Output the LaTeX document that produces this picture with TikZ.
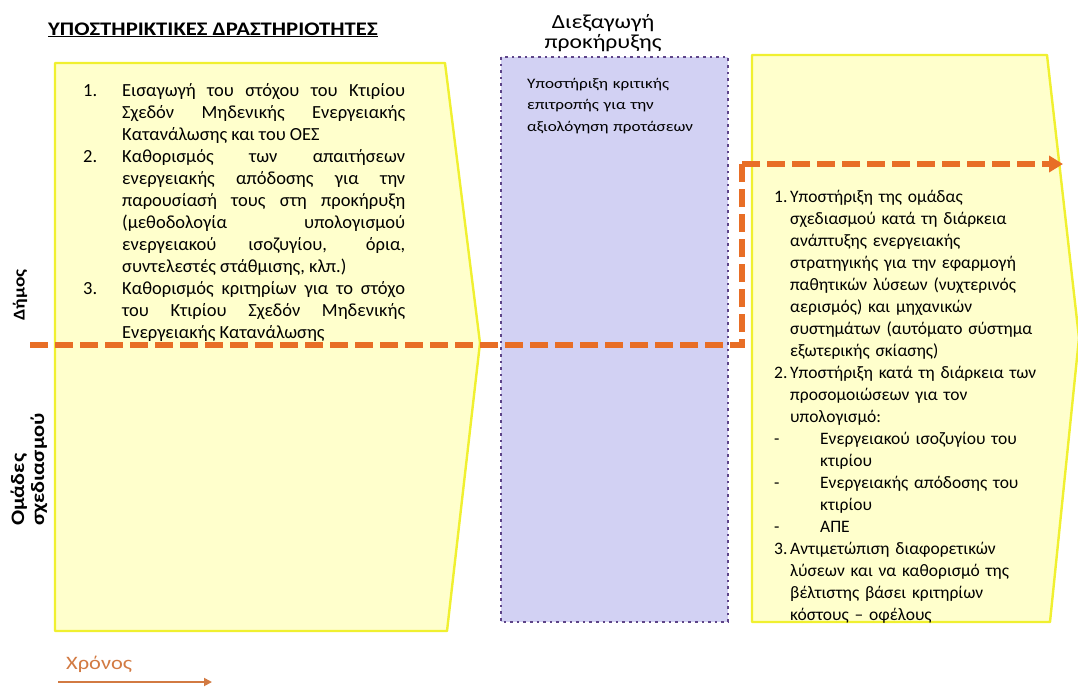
\documentclass[tikz,border=0pt]{standalone}
\usepackage{fontspec}
\setmainfont{Carlito}
\newfontfamily\widefont{Carlito}[FakeStretch=1.18]
\usetikzlibrary{arrows.meta}

\definecolor{boxyellow}{HTML}{FFFFCC}
\definecolor{rimyellow}{HTML}{F0F030}
\definecolor{lavender}{HTML}{D2D1F3}
\definecolor{dotpurple}{HTML}{5E4589}
\definecolor{dashorange}{HTML}{E86E26}
\definecolor{timeorange}{HTML}{D27A42}

% item with hanging number
\newcommand{\litem}[3]{\hangindent=#1\hangafter=1\noindent\makebox[#1][l]{#2}#3\par}

\tikzset{
  phasebox/.style={fill=boxyellow, draw=rimyellow, line width=2.4pt, line join=round},
  tenderbox/.style={fill=lavender, draw=dotpurple, line width=2.6pt, dash pattern=on 2.6pt off 4pt},
  laneline/.style={draw=dashorange, line width=5.5pt, dash pattern=on 18pt off 7pt},
  lanelabel/.style={rotate=90, inner sep=0pt, font=\widefont\bfseries\fontsize{19}{20}\selectfont},
}

\begin{document}
\begin{tikzpicture}[x=1pt, y=-1pt]
    \useasboundingbox (0,0) rectangle (1078,686);
    \clip (0,0) rectangle (1078,686);
    % Title
    \node[anchor=base west, inner sep=0pt, font=\widefont\bfseries\fontsize{19.2}{22}\selectfont] (title) at (48,35)
      {\underline{ΥΠΟΣΤΗΡΙΚΤΙΚΕΣ ΔΡΑΣΤΗΡΙΟΤΗΤΕΣ}};

    % Draw the three phases
    \draw[phasebox] (55,63) coordinate (a_1) -- (445,63) coordinate (a_2)
      -- (480,343) coordinate (a_3) -- (447,631) coordinate (a_4) -- (55,631) coordinate (a_5) -- cycle;
    \draw[tenderbox] (501,57) coordinate (b_1) rectangle (728,622) coordinate (b_2);
    \draw[phasebox] (752,55) coordinate (c_1) -- (1047,55) coordinate (c_2)
      -- (1079,338) coordinate (c_3) -- (1050,622) coordinate (c_4) -- (752,622) coordinate (c_5) -- cycle;

    % Phase titles
    \node[font=\widefont\fontsize{20}{20}\selectfont, align=center, inner sep=0pt, anchor=base] (tender) at (603,48)
      {Διεξαγωγή\\προκήρυξης};

    % Lane labels
    \node[lanelabel, font=\widefont\bfseries\fontsize{16.5}{20}\selectfont] (municipality) at (20,295) {Δήμος};
    \node[lanelabel, align=left, anchor=west] (designers) at (29,526) {Ομάδες\\σχεδιασμού};

    % Lane border and hand-over
    \coordinate (d_1) at (30,345);
    \coordinate (d_2) at (742,345);
    \coordinate (d_3) at (742,164);
    \coordinate (d_4) at (1063,164);
    \draw[laneline] (d_1) -- (d_2) -- (d_3);
    \draw[laneline, -{Triangle[length=14pt, width=16pt]}] (d_3) -- (d_4);

    % Texts in the boxes
    \node[anchor=north west, inner sep=0pt, text width=322pt, align=justify,
          font=\fontsize{18.5}{22}\selectfont] (tasks_1) at (83,83) {%
      \litem{39pt}{1.}{Εισαγωγή του στόχου του Κτιρίου\linebreak Σχεδόν Μηδενικής Ενεργειακής\linebreak Κατανάλωσης και του ΟΕΣ}
      \litem{39pt}{2.}{Καθορισμός των απαιτήσεων\linebreak ενεργειακής απόδοσης για την\linebreak παρουσίασή τους στη προκήρυξη\linebreak (μεθοδολογία υπολογισμού\linebreak ενεργειακού ισοζυγίου, όρια,\linebreak συντελεστές στάθμισης, κλπ.)}
      \litem{39pt}{3.}{Καθορισμός κριτηρίων για το στόχο\linebreak του Κτιρίου Σχεδόν Μηδενικής\linebreak Ενεργειακής Κατανάλωσης}};

    \node[anchor=north west, inner sep=0pt, text width=200pt, align=left,
          font=\widefont\fontsize{14.5}{21.5}\selectfont] (tasks_2) at (527,78)
      {Υποστήριξη κριτικής\\επιτροπής για την\\αξιολόγηση προτάσεων};

    \node[anchor=north west, inner sep=0pt, text width=300pt, align=left,
          font=\fontsize{17.5}{22}\selectfont] (tasks_3) at (774,190) {%
      \litem{16pt}{1.}{Υποστήριξη της ομάδας\newline σχεδιασμού κατά τη διάρκεια\newline ανάπτυξης ενεργειακής\newline στρατηγικής για την εφαρμογή\newline παθητικών λύσεων (νυχτερινός\newline αερισμός) και μηχανικών\newline συστημάτων (αυτόματο σύστημα\newline εξωτερικής σκίασης)}
      \litem{16pt}{2.}{Υποστήριξη κατά τη διάρκεια των\newline προσομοιώσεων για τον\newline υπολογισμό:}
      \litem{46pt}{-}{Ενεργειακού ισοζυγίου του\newline κτιρίου}
      \litem{46pt}{-}{Ενεργειακής απόδοσης του\newline κτιρίου}
      \litem{46pt}{-}{ΑΠΕ}
      \litem{16pt}{3.}{Αντιμετώπιση διαφορετικών\newline λύσεων και να καθορισμό της\newline βέλτιστης βάσει κριτηρίων\newline κόστους – οφέλους}};

    % Time axis
    \node[anchor=base west, inner sep=0pt, text=timeorange, font=\widefont\fontsize{19}{20}\selectfont] (time) at (66,669) {Χρόνος};
    \coordinate (t_1) at (58,682);
    \coordinate (t_2) at (212,682);
    \draw[timeorange, line width=1.8pt, -{Triangle[length=8pt, width=8pt]}] (t_1) -- (t_2);
  \end{tikzpicture}
\end{document}
